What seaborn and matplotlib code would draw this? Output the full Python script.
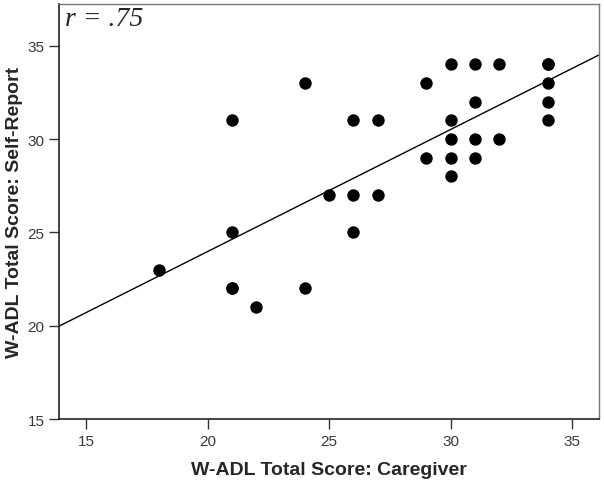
import numpy as np
import pandas as pd
import seaborn as sns
import matplotlib
import matplotlib.pyplot as plt

matplotlib.use("Agg")

# caregiver vs self-report W-ADL total scores
# (the last two pairs repeat visible points: overplotted cases, so that the fit gives r = .75)
caregiver = [18, 21, 21, 21, 22, 24, 24, 25, 26, 26, 26, 27, 27, 29, 29,
             30, 30, 30, 30, 30, 31, 31, 31, 31, 32, 32, 34, 34, 34, 34,
             34, 21]
self_report = [23, 31, 25, 22, 21, 33, 22, 27, 31, 27, 25, 31, 27, 33, 29,
               34, 31, 30, 29, 28, 34, 32, 30, 29, 34, 30, 34, 33, 32, 31,
               34, 22]
r_label = "r = .75"

df = pd.DataFrame({"Caregiver": caregiver, "SelfReport": self_report})

sns.set_style("white")
plt.rcParams["font.family"] = ["Liberation Sans", "DejaVu Sans"]

fig = plt.figure(figsize=(6.04, 4.85), dpi=100)
ax = fig.add_axes([0.098, 0.134, 0.893, 0.856])
ax.set_xlim(13.875, 36.1)
ax.set_ylim(15, 37.25)

sns.regplot(data=df, x="Caregiver", y="SelfReport", ax=ax, ci=None,
            truncate=False,
            scatter_kws={"s": 80, "color": "black", "alpha": 1, "linewidths": 0},
            line_kws={"color": "black", "lw": 1.0})

ax.set_xticks([15, 20, 25, 30, 35])
ax.set_yticks([15, 20, 25, 30, 35])
ax.tick_params(axis="both", direction="out", length=7, width=1, color="#333333",
               labelsize=11, labelcolor="#3a3a3a", bottom=True, left=True)
ax.set_xlabel("W-ADL Total Score: Caregiver", fontsize=14, fontweight="bold", labelpad=10)
ax.set_ylabel("W-ADL Total Score: Self-Report", fontsize=14, fontweight="bold", labelpad=3)

for side in ["left", "bottom"]:
    ax.spines[side].set_color("#222222")
    ax.spines[side].set_linewidth(1.2)
for side in ["top", "right"]:
    ax.spines[side].set_visible(True)
    ax.spines[side].set_color("#777777")
    ax.spines[side].set_linewidth(1.0)

ax.text(0.01, 0.995, r_label, transform=ax.transAxes, ha="left", va="top",
        fontsize=20, style="italic", family=["Liberation Serif", "DejaVu Serif"])

fig.savefig("out.png", dpi=100)
